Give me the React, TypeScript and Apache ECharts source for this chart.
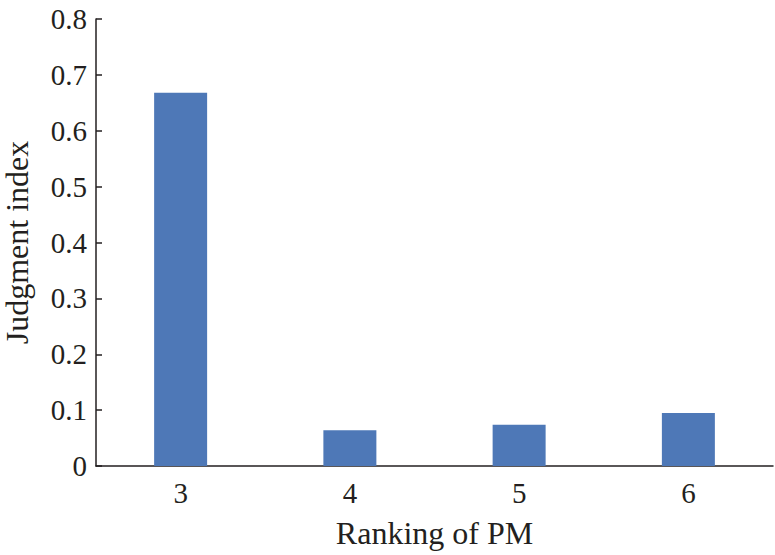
import React, { useEffect, useRef } from "react";
import * as echarts from "echarts";

const categories = ["3", "4", "5", "6"];
const judgmentIndex = [0.668, 0.064, 0.074, 0.095];
const yTicks = { min: 0, max: 0.8, interval: 0.1 };

export default function App() {
  const ref = useRef<HTMLDivElement>(null);
  useEffect(() => {
    document.body.style.margin = "0";
    if (!ref.current) return;
    const chart = echarts.init(ref.current, null, { renderer: "svg" });
    const font = "Liberation Serif";
    chart.setOption({
      animation: false,
      backgroundColor: "#ffffff",
      textStyle: { fontFamily: font },
      grid: { left: 96, right: 2, top: 19, bottom: 89, containLabel: false, outerBoundsMode: "none" },
      xAxis: {
        type: "category",
        data: categories,
        boundaryGap: true,
        name: "Ranking of PM",
        nameLocation: "middle",
        nameGap: 51,
        nameTextStyle: { fontFamily: font, fontSize: 32, color: "#231f20" },
        axisLine: { lineStyle: { color: "#231f20", width: 1.5 } },
        axisTick: { inside: true, length: 6, alignWithLabel: false, lineStyle: { color: "#231f20", width: 1.5 } },
        axisLabel: { fontFamily: font, fontSize: 29, color: "#231f20", margin: 12 },
        splitLine: { show: false },
      },
      yAxis: {
        type: "value",
        min: yTicks.min,
        max: yTicks.max,
        interval: yTicks.interval,
        name: "Judgment index",
        nameLocation: "middle",
        nameGap: 63,
        nameTextStyle: { fontFamily: font, fontSize: 32, color: "#231f20" },
        axisLine: { show: true, lineStyle: { color: "#231f20", width: 1.5 } },
        axisTick: { show: true, inside: true, length: 6, lineStyle: { color: "#231f20", width: 1.5 } },
        axisLabel: { fontFamily: font, fontSize: 29, color: "#231f20", margin: 9 },
        splitLine: { show: false },
      },
      series: [
        {
          type: "bar",
          data: judgmentIndex,
          barWidth: 53,
          itemStyle: { color: "#4e78b7" },
        },
      ],
    });
    return () => chart.dispose();
  }, []);
  return <div ref={ref} style={{ width: 775, height: 555 }} />;
}
